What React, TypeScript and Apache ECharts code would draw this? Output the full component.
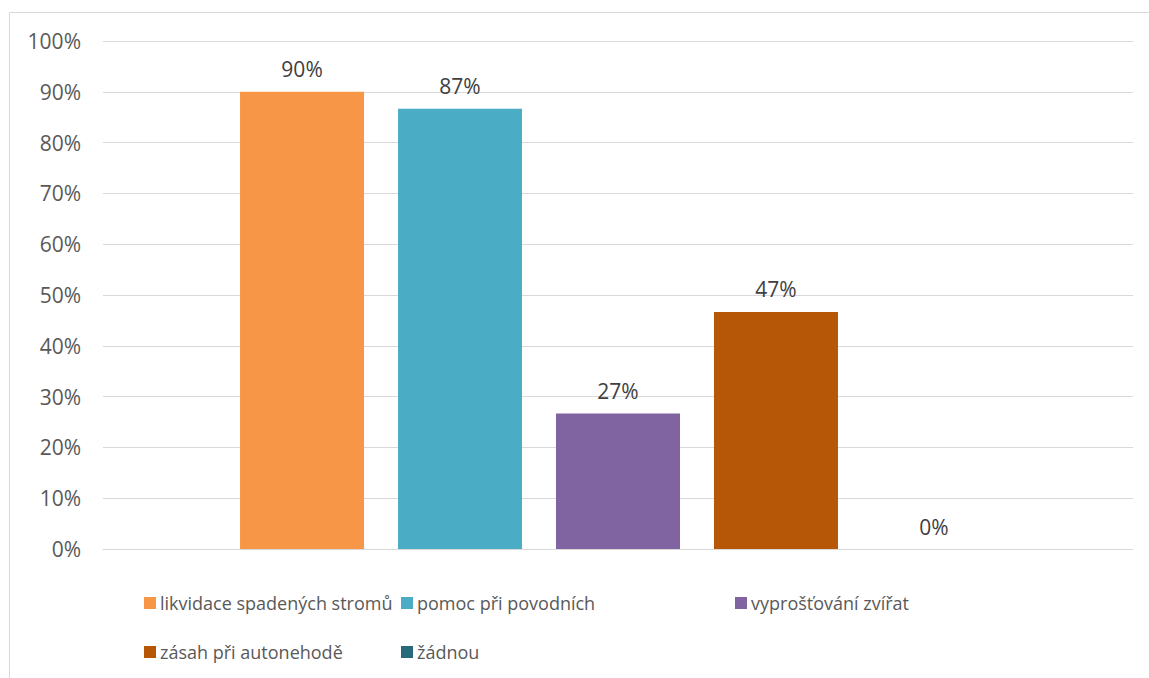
import React, { useEffect, useRef } from "react";
import * as echarts from "echarts";

const categories = [""];
const seriesNames = [
  "likvidace spadených stromů",
  "pomoc při povodních",
  "vyprošťování zvířat",
  "zásah při autonehodě",
  "žádnou",
];
const seriesValues = [90, 86.67, 26.67, 46.67, 0];
const seriesColors = ["#F79646", "#4BACC6", "#8064A2", "#B65708", "#276A7C"];
const yTicks = [0, 10, 20, 30, 40, 50, 60, 70, 80, 90, 100];

const FONT = "'Open Sans', 'Noto Sans', sans-serif";

export default function App() {
  const ref = useRef<HTMLDivElement>(null);
  useEffect(() => {
    document.body.style.margin = "0";
    const chart = echarts.init(ref.current!, null, { renderer: "svg" });
    const legendPos = [
      [144, 591],
      [401, 591],
      [735, 591],
      [144, 640],
      [401, 640],
    ];
    const option: any = {
      animation: false,
      backgroundColor: "#ffffff",
      textStyle: { fontFamily: FONT },
      graphic: [
        {
          type: "rect",
          shape: { x: 9.5, y: 12.5, width: 1160, height: 700 },
          style: { fill: "none", stroke: "#d9d9d9", lineWidth: 1 },
          silent: true,
        },
      ],
      grid: { left: 103, right: 16, top: 41, bottom: 129 },
      xAxis: {
        type: "category",
        data: categories,
        axisLine: { show: true, lineStyle: { color: "#d9d9d9", width: 1 } },
        axisTick: { show: false },
        axisLabel: { show: false },
      },
      yAxis: {
        type: "value",
        min: yTicks[0],
        max: yTicks[yTicks.length - 1],
        interval: 10,
        axisLine: { show: false },
        axisTick: { show: false },
        splitLine: { lineStyle: { color: "#d9d9d9", width: 1 } },
        axisLabel: {
          formatter: "{value}%",
          color: "#595959",
          fontSize: 21,
          fontFamily: FONT,
          margin: 22,
        },
      },
      legend: seriesNames.map((name, i) => ({
        data: [name],
        left: legendPos[i][0],
        top: legendPos[i][1],
        padding: 0,
        itemWidth: 12,
        itemHeight: 12,
        icon: "rect",
        selectedMode: false,
        textStyle: {
          color: "#595959",
          fontSize: 18,
          fontFamily: FONT,
          lineHeight: 24,
          padding: [0, 0, 0, -1],
        },
      })),
      series: seriesNames.map((name, i) => ({
        name,
        type: "bar",
        data: [seriesValues[i]],
        barWidth: 124,
        barGap: "27.4%",
        itemStyle: { color: seriesColors[i] },
        label: {
          show: true,
          position: "top",
          distance: 12,
          color: "#404040",
          fontSize: 21,
          fontFamily: FONT,
          formatter: (p: any) => Math.round(p.value) + "%",
        },
      })),
    };
    chart.setOption(option);
    return () => chart.dispose();
  }, []);
  return <div ref={ref} style={{ width: 1149, height: 678 }} />;
}
